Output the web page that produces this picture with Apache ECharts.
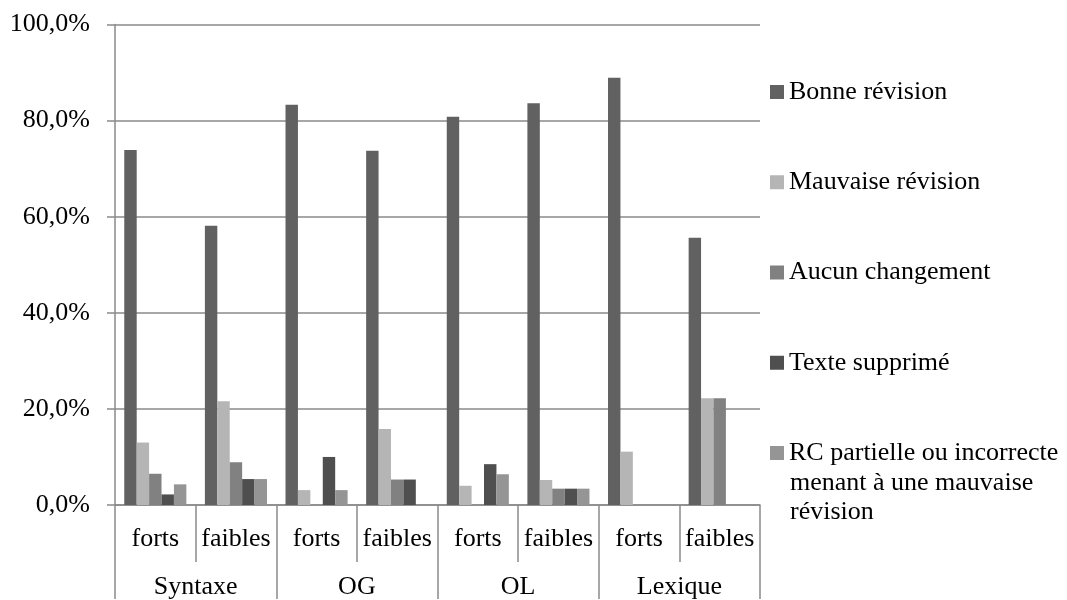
<!DOCTYPE html>
<html>
<head>
    <meta charset="utf-8">
    <title>Révisions</title>
    <script src="https://cdn.jsdelivr.net/npm/echarts@6/dist/echarts.min.js"></script>
    <style>
        html, body { margin: 0; padding: 0; background: #fff; }
        #main { width: 1067px; height: 600px; }
    </style>
</head>
<body>
<div id="main"></div>
<script type="text/javascript">
    // sub categories (level 1) and groups (level 2)
    var niveaux = ['forts', 'faibles', 'forts', 'faibles', 'forts', 'faibles', 'forts', 'faibles'];
    var groupes = ['Syntaxe', 'OG', 'OL', 'Lexique'];
    var yTicks = [0, 20, 40, 60, 80, 100];

    var nomsSeries = [
        'Bonne révision',
        'Mauvaise révision',
        'Aucun changement',
        'Texte supprimé',
        'RC partielle ou incorrecte menant à une mauvaise révision'
    ];
    var couleurs = ['#616161', '#b5b5b5', '#818181', '#4f4f4f', '#959595'];

    var bonne    = [73.9, 58.1, 83.3, 73.7, 80.8, 83.6, 88.9, 55.6];
    var mauvaise = [13.0, 21.6, 3.1, 15.8, 4.0, 5.2, 11.1, 22.2];
    var aucun    = [6.5, 8.9, 0, 5.3, 0, 3.4, 0, 22.2];
    var texte    = [2.2, 5.4, 10.0, 5.3, 8.5, 3.4, 0, 0];
    var rc       = [4.3, 5.4, 3.1, 0, 6.4, 3.4, 0, 0];

    var valeurs = [bonne, mauvaise, aucun, texte, rc];
    var police = 'Liberation Serif';
    var gris = '#8a8a8a';

    var chart = echarts.init(document.getElementById('main'));

    var series = nomsSeries.map(function (nom, i) {
        return {
            name: nom,
            type: 'bar',
            data: valeurs[i],
            barGap: '0%',
            barCategoryGap: '23%',
            itemStyle: { color: couleurs[i] }
        };
    });

    var option = {
        animation: false,
        color: couleurs,
        grid: { left: 115, right: 307, top: 24.5, bottom: 93.5, containLabel: false },
        legend: {
            orient: 'vertical',
            left: 770,
            top: 78,
            padding: 0,
            itemWidth: 14,
            itemHeight: 14,
            itemGap: 62.25,
            icon: 'rect',
            selectedMode: false,
            data: nomsSeries,
            // last entry: first line in the legend, rest as a text block below
            formatter: function (nom) {
                return nom.indexOf('RC') === 0 ? 'RC partielle ou incorrecte' : nom;
            },
            textStyle: { fontFamily: police, fontSize: 26, color: '#000', lineHeight: 28 }
        },
        graphic: [{
            type: 'text',
            left: 790,
            top: 468.5,
            style: {
                text: 'menant à une mauvaise\nrévision',
                font: '26px "' + police + '"',
                lineHeight: 29,
                fill: '#000'
            }
        }],
        xAxis: [
            {
                type: 'category',
                position: 'bottom',
                data: niveaux,
                axisLine: { show: true, lineStyle: { color: gris, width: 1.5 } },
                axisTick: { show: true, alignWithLabel: false, length: 57, lineStyle: { color: gris, width: 1.5 } },
                axisLabel: { interval: 0, margin: 21, fontFamily: police, fontSize: 26, color: '#000' }
            },
            {
                type: 'category',
                position: 'bottom',
                data: groupes,
                axisLine: { show: false },
                axisTick: { show: true, alignWithLabel: false, length: 94, lineStyle: { color: gris, width: 1.5 } },
                axisLabel: { interval: 0, margin: 69, fontFamily: police, fontSize: 26, color: '#000' }
            }
        ],
        yAxis: {
            type: 'value',
            min: yTicks[0],
            max: yTicks[yTicks.length - 1],
            interval: 20,
            axisLine: { show: true, lineStyle: { color: gris, width: 1.5 } },
            axisTick: { show: true, length: 8, lineStyle: { color: gris, width: 1.5 } },
            splitLine: { lineStyle: { color: gris, width: 1.5 } },
            axisLabel: {
                margin: 25,
                fontFamily: police,
                fontSize: 26,
                color: '#000',
                formatter: function (v) { return v.toFixed(1).replace('.', ',') + '%'; }
            }
        },
        series: series
    };

    chart.setOption(option);
</script>
</body>
</html>
